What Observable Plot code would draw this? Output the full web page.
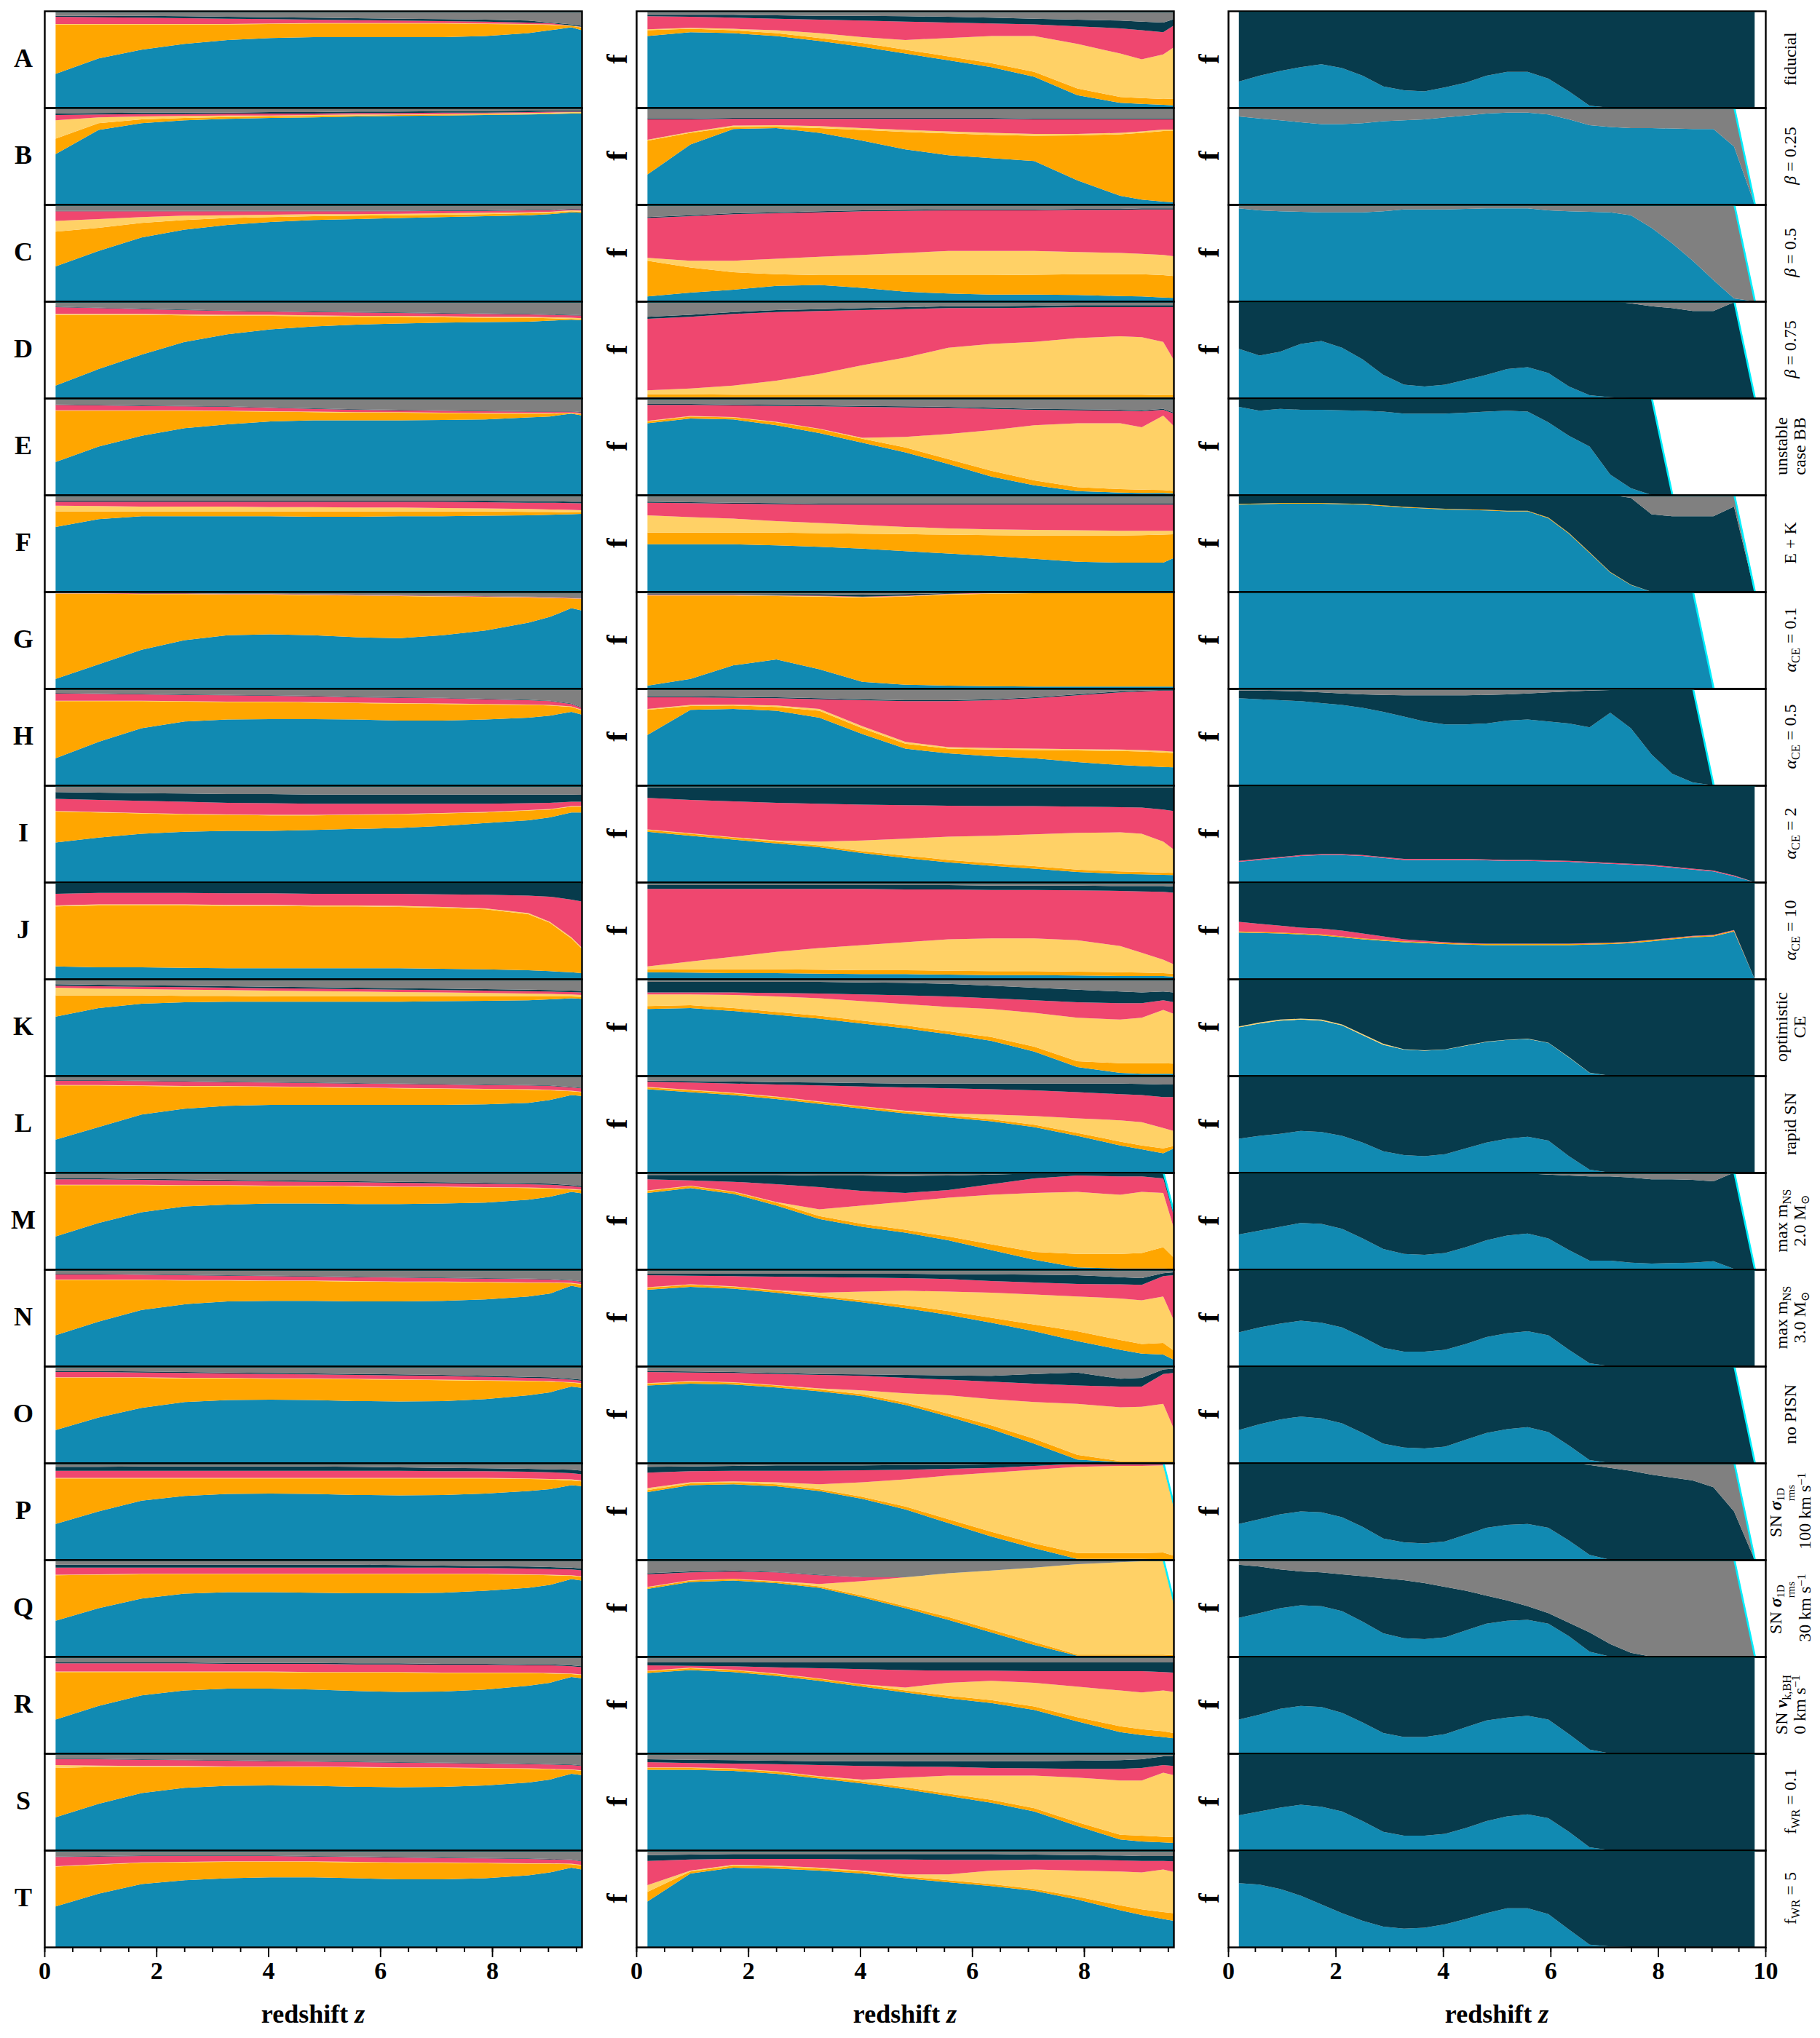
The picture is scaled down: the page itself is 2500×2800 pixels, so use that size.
<!DOCTYPE html>
<html><head><meta charset="utf-8">
<script src="https://cdn.jsdelivr.net/npm/d3@7"></script>
<script src="https://cdn.jsdelivr.net/npm/@observablehq/plot@0.6"></script>
<style>
body{margin:0;background:#fff;}
#fig{position:relative;width:2500px;height:2800px;font-family:"Liberation Serif","DejaVu Serif",serif;color:#000;}
.panel{position:absolute;}
.lbl{position:absolute;white-space:nowrap;text-align:center;line-height:1.05;}
.lbl sub{font-size:68%;vertical-align:-0.3em;line-height:0;}
.lbl sup{font-size:68%;vertical-align:0.45em;line-height:0;}
.ss{display:inline-flex;flex-direction:column;font-size:62%;line-height:0.95;vertical-align:-0.25em;text-align:left;}
</style></head><body><div id="fig"></div>
<script>
// ---------- grids (redshift) ----------
const zAB = [0.2,0.968,1.736,2.504,3.272,4.04,4.808,5.576,6.344,7.112,7.88,8.648,9.032,9.416,9.8];
const zC = [0.2,0.584,0.968,1.352,1.736,2.12,2.504,2.888,3.272,3.656,4.04,4.424,4.808,5.192,5.576,5.96,6.344,6.728,7.112,7.496,7.88,8.264,8.648,9.032,9.416,9.8];

const rowLetters = ["A","B","C","D","E","F","G","H","I","J","K","L","M","N","O","P","Q","R","S","T"];
const rowLabels = [
  "fiducial",
  "<i>β</i> = 0.25",
  "<i>β</i> = 0.5",
  "<i>β</i> = 0.75",
  "unstable<br>case BB",
  "E + K",
  "<i>α</i><sub>CE</sub> = 0.1",
  "<i>α</i><sub>CE</sub> = 0.5",
  "<i>α</i><sub>CE</sub> = 2",
  "<i>α</i><sub>CE</sub> = 10",
  "optimistic<br>CE",
  "rapid SN",
  "max m<sub>NS</sub><br>2.0 M<sub>⊙</sub>",
  "max m<sub>NS</sub><br>3.0 M<sub>⊙</sub>",
  "no PISN",
  "SN <b><i>σ</i></b><span class='ss'><span>1D</span><span>rms</span></span><br>100 km s<sup>−1</sup>",
  "SN <b><i>σ</i></b><span class='ss'><span>1D</span><span>rms</span></span><br>30 km s<sup>−1</sup>",
  "SN <b><i>v</i></b><sub>k,BH</sub><br>0 km s<sup>−1</sup>",
  "f<sub>WR</sub> = 0.1",
  "f<sub>WR</sub> = 5"
];
const seriesNames = ["blue","orange","yellow","pink","navy","gray"];
const seriesColors = ["#118ab2","#ffa600","#ffd166","#ef476f","#073b4c","#808080"];
const xTickLabels = [[0,2,4,6,8],[0,2,4,6,8],[0,2,4,6,8,10]];
const xMax = [9.6, 9.6, 10];
const xTitle = "redshift <i>z</i>";

// ---------- column 1: cumulative tops (%) ----------
const c1Blue = [
[35,51,60,66,70,72,73,73,73,73,74,77,80,83,77],
[52,77,84,87,88.5,89.5,90,91,91.5,92,92.5,93,93.5,94,94],
[36,52,66,74,79,82,84,85,86,87,88,89,90,92,91],
[13,30,45,58,66,71,74,76,77,78,78.5,79,80,81,80],
[34,50,61,69,73,76,77,77,77,77.5,78,80,81,84,80],
[67,75,78,78,78,78,77.5,77.5,78,78,78.5,79,79.5,80,81],
[10,25,40,50,55,56,55,53,52,55,60,68,74,83,78],
[28,45,59,66,68,68.5,68.5,68,67,67,68,70,72,76,70],
[41,46,50,52,53,53,54,55,56,58,61,64,67,72,72],
[13,12,12,11.5,11,11,11,11,11,10.5,10,9,8,7,5],
[61,70,74.5,76,76.5,76.5,76.5,76.5,76.5,77,77.5,78,79,80,79],
[34,47,60,66,69,70,70,70,70,70,70.5,72,75,80,78],
[34,48,59,65,67,68,68,67.5,67.5,68,69,72,75,80,77],
[32,46,58,64,67,67.5,67.5,67,67,67.5,69,72,75,83,79],
[34,47,57,63,65,65.5,65,64,63.5,64,66,70,73,79,76],
[37,50,61,66,68,68.5,68,67,66.5,67,68.5,71,73,77,75],
[37,50,60,65,66.5,66.5,66,65.5,65.5,66,68,71,74,80,77],
[35,49,60,65,67,67,66,64.5,63.5,64,66,70,73,79,76],
[34,48,59,64.5,66.5,67,66.5,65.5,65,65.5,67,70,73,79,76],
[42,55,65,69,71,72,72,71,70,70,71,74,77,82,78]];
const c1Orange = [
[86,86,86,86,86,86.5,87,87,87,87,86.5,86,85.5,84.5,81],
[68,84,88,89.5,90.5,91,91.5,92,92.5,93,93,93.5,94,94.5,94.5],
[72,76,81,84,86,87,88,88.5,89,89.5,90,91,91.5,93,92],
[86,86,86,85.5,85,85,84.5,84,84,83.5,83,83,82.5,82,81],
[87,87,87,87,86.5,86,85.5,85,85,84.5,84,84,84,84.5,82],
[83,83,83,83,83,83,83,83,83,83,83,82.5,82.5,82,82],
[98,98,97.5,97.5,97,97,96.5,96,95.5,95,94.5,94,93.5,93,92],
[87,87,87,86.5,86,86,85.5,85,84.5,84,83.5,83,82.5,81,74],
[73,72,71,70,69.5,69,69,69.5,70,71,72,74,75,78,78],
[75,76,76,76,75.5,75.5,75,75,74.5,73.5,72,67,58,42,20],
[83,83,83,82.5,82.5,82,82,82,82,82,82,82,82,82,81],
[90,90,89.5,89,89,88.5,88,87.5,87,86.5,86,85.5,85,84,82],
[87,87,87,86.5,86.5,86,86,85.5,85,85,84.5,84,83.5,82.5,81],
[89,89,89,88.5,88.5,88,88,87.5,87,87,86.5,86,86,85.5,83],
[88,88,88,87.5,87.5,87,87,86.5,86,85.5,85,84.5,84,83,81],
[84,84,84,84,84,84,84,84,84,84,84,83.5,83,82,80],
[84,84.5,85,85,85,85,85,85,85,85,85,84.5,84,83.5,81],
[84,84,84,84,84,84,83.5,83.5,83.5,83,83,83,82.5,82,80],
[85,86,86,86,86,86,86,85.5,85,85,84.5,84,83.5,83,81],
[83,85,87,87.5,88,88,88,87.5,87,87,86.5,86,86,85.5,83]];
const c1Yellow = [
[86.5,86.5,86.5,86.5,86.5,87,87.5,87.5,87.5,87.5,87,86.5,86,85,81.5],
[87,90,91,91.5,92,92,92.5,93,93,93.5,94,94.5,95,95.5,95.5],
[83,85,87,88.5,89,89.5,90,90,90.5,91,91.5,92,92.5,94,93],
[87,87,87,86.5,86,86,85.5,85,85,84.5,84,84,83.5,83,82],
[87.5,87.5,87.5,87.5,87,86.5,86,85.5,85.5,85,84.5,84.5,84.5,85,82.5],
[89,88.5,88,88,88,87.5,87.5,87,87,86.5,86,85.5,85,84.5,84],
[98.3,98.3,97.8,97.8,97.3,97.3,96.8,96.3,95.8,95.3,94.8,94.3,93.8,93.3,92.3],
[87.5,87.5,87.5,87,86.5,86.5,86,85.5,85,84.5,84,83.5,83,81.5,74.5],
[73.5,72.5,71.5,70.5,70,69.5,69.5,70,70.5,71.5,72.5,74.5,75.5,78.5,78.5],
[76,77,77,77,76.5,76.5,76,76,75.5,74.5,73,68,59,43,21],
[91,90,89.5,89,88.5,88,87.5,87,86.5,86,85.5,85,84.5,84,83],
[90.5,90.5,90,89.5,89.5,89,88.5,88,87.5,87,86.5,86,85.5,84.5,82.5],
[87.5,87.5,87.5,87,87,86.5,86.5,86,85.5,85.5,85,84.5,84,83,81.5],
[89.5,89.5,89.5,89,89,88.5,88.5,88,87.5,87.5,87,86.5,86.5,86,83.5],
[88.5,88.5,88.5,88,88,87.5,87.5,87,86.5,86,85.5,85,84.5,83.5,81.5],
[84.5,84.5,84.5,84.5,84.5,84.5,84.5,84.5,84.5,84.5,84.5,84,83.5,83,81],
[84.5,85,85.5,85.5,85.5,85.5,85.5,85.5,85.5,85.5,85.5,85,84.5,84,81.5],
[84.5,84.5,84.5,84.5,84.5,84.5,84,84,84,83.5,83.5,83.5,83,82.5,80.5],
[88,87.5,87,87,86.5,86.5,86.5,86,85.5,85.5,85,84.5,84,83.5,81.5],
[83.5,85.5,87.5,88,88.5,88.5,88.5,88,87.5,87.5,87,86.5,86.5,86,83.5]];
const c1Pink = [
[94,93.5,93,92.5,92,91.5,91,90.5,90,89.5,89,88,87.5,85,82],
[92.5,93,93.5,93.5,94,94,94,94.5,94.5,95,95,95.5,96,96,96],
[93,93,93,93,93,93,93,93,93,93.5,93.5,94,94,95,94.5],
[94,93,92,91,90,89.5,89,88.5,88,87.5,87,86.5,86,85.5,85],
[93,92.5,92,91.5,91,90,89,88,87.5,87,86.5,86,86,86,84],
[93,93,93,93,93,93,93,93,93,93,92.5,92,92,91.5,91],
[98.8,98.8,98.3,98.3,97.8,97.8,97.3,96.8,96.3,95.8,95.3,94.8,94.3,93.8,92.8],
[95,94.5,94,93.5,93,92.5,92,91,90.5,90,89,88,87,84,76],
[86,85,84,83,82,81.5,81,81,81,81,81,81.5,82,83,83],
[88,89,89,89,88.5,88.5,88,88,88,87.5,87,86,85,82,78],
[93,92.5,92,91.5,91,90.5,90,89.5,89,88.5,88,87.5,87,86.5,85.5],
[95,95,94.5,94,93.5,93,92.5,92,91.5,91,90.5,90,89.5,88,86],
[93,93,92.5,92,91.5,91,90.5,90,89.5,89,88.5,88,87.5,86,84],
[95,95,94.5,94,93.5,93,92.5,92,91.5,91,90.5,90,89.5,88.5,86],
[94,94,93.5,93,92.5,92,91.5,91,90.5,90,89,88,87.5,86,84],
[92,92,92,92,92,92,92,92,92,91.5,91.5,91,90.5,89.5,87],
[92,92,92,92,92,92,92,92,92,92,91.5,91,90.5,90,88],
[93,93,93,93,92.5,92.5,92.5,92,92,91.5,91.5,91,91,90,88],
[94,94,93.5,93,92.5,92,91.5,91,90.5,90,89.5,89,88.5,88,86],
[93,93.5,94,94,94,94,93.5,93,92.5,92,91.5,91,90.5,90,87]];
const c1Navy = [
[95,95,95,94.5,94,93.5,93,92.5,92,91.5,91,90,88,86,83],
[94,94.5,95,95,95,95.5,95.5,96,96,96.5,96.5,97,97,97,97],
[93.5,93.5,93.5,93.5,93.5,93.5,93.5,93.5,93.5,94,94,94.5,94.5,95.5,95],
[94.5,93.5,92.5,91.5,90.5,90,89.5,89,88.5,88,87.5,87,86.5,86,85.5],
[93.5,93,92.5,92,91.5,90.5,89.5,88.5,88,87.5,87,86.5,86.5,86.5,84.5],
[94,94,94,94,94,94,94,94,94,94,94,93.5,93.5,93,93],
[99,99,98.5,98.5,98,98,97.5,97,96.5,96,95.5,95,94.5,94,93],
[95.5,95,94.5,94,93.5,93,92.5,91.5,91,90.5,89.5,88.5,87.5,84.5,76.5],
[93,92.5,92,91.5,91,91,90.5,90.5,90.5,90.5,90.5,90.5,90.5,90.5,90],
[99,99,99,99,99,99,99,99,99,99,99,99,99,99,99],
[94.5,94,93.5,93,92.5,92,91.5,91,90.5,90,89.5,89,88.5,88,87],
[95.5,95.5,95,94.5,94,93.5,93,92.5,92,91.5,91,90.5,90,88.5,86.5],
[94,94,93.5,93,92.5,92,91.5,91,90.5,90,89.5,89,88.5,87,85],
[95.5,95.5,95,94.5,94,93.5,93,92.5,92,91.5,91,90.5,90,89,86.5],
[95,95,94.5,94,93.5,93,92.5,92,91.5,91,90,89,88.5,87,85],
[96,96,96.5,96.5,96.5,96.5,96.5,96,95.5,95,94.5,94,93.5,93,91],
[95,95,95,95,95,95,95,95,94.5,94,93.5,93,92.5,92,90],
[94,94,94,94,93.5,93.5,93.5,93,93,92.5,92.5,92,92,91,89],
[94.5,94.5,94,93.5,93,92.5,92,91.5,91,90.5,90,89.5,89,88.5,86.5],
[93.5,94,94.5,94.5,94.5,94.5,94,93.5,93,92.5,92,91.5,91,90.5,87.5]];
const c1Total = [100,100,100,100,100,100,100,100,100,100,100,100,100,100,100,100,100,100,100,100];

// ---------- column 2 ----------
const c2Blue = [
[74,78,77,74,69,63,56,49,42,32,13,5,4,3,2],
[31,62,78,79,74,66,57,51,48,45,25,9,5,3,2],
[5,9,12,16,17,14,10,8,7,7,6.5,5.5,5,4,3],
[1,1,1,1,1,1,1,1,1,1,1,1,1,1,1],
[74,79,78,72,64,54,44,32,19,10,4,2.5,2,2,1],
[49,49,49,48,46.5,44.5,42,39.5,37,34,31,30,30,30,40],
[3,10,24,30,20,7,4,3,2.5,2,2,2,2,2,2],
[52,78,79,77,70,53,38,33,30,28,24,21,20,19,18],
[52,48,44,40,36,30,25,20.5,17,14,10.5,8.5,8,7.5,7],
[7,6.5,6,6,5.5,5,5,4.5,4,4,3.5,3,3,3,2],
[69,70,67,63,59,54,49,43,36,25,9,3,2,2,2],
[86,83,80,76,71,66,61,57,53,47,38,28,24,20,30],
[79,84,78,66,52,44,38,30,20,10,2,1,1,1,0],
[79,82,80,76,71,66,60,53,45,36,26,17,13,12,1],
[80,82,81,78,74,69,60,48,35,20,3.6,1,1,1,1],
[70,77,78,76,71,63,52,38,24,12,1,1,1,0.5,0],
[70,77,78.5,76,71,61,50,38,25,12,1,1,1,1,0],
[83,86,84,80,75,69,63,57,52,45,33,22,19,17,14],
[83,83,82,79,74,69,63,56,49,40,25,11,9,8,7],
[47,76,82,81,79,76,71,67,63,58,49,38,33,29,25]];
const c2Orange = [
[80,81.5,80,77,72,67,60,53,46,37,20,11,10,9,10],
[66,74,80,80.5,79,77,75,73.5,72,71,71.5,72.5,74,76,76],
[42,35,30,28,27,27,27,27,27,27.5,28,28,28,27,25],
[4,4,3.5,3.5,3.5,3.5,3.5,3.5,3.5,3.5,3.5,3.5,3.5,3,3],
[76,81,80,75,68,58,49,37,25,15,8,6,5.5,5,3],
[61,61,61,61,60.5,60,59.5,59,58.5,58,58,58,58.5,59,60],
[96,96,96,95.5,95,94,95,97,98,98.5,99,99,99,99,99],
[78,82,82.5,81,77,59,43,38,37,36.5,36,35.5,35,34,33],
[54,50,46,42,38,32,27.5,23,19.5,16.5,13,11,10.5,10,9],
[10,10,10,10,9.5,9,9,8.5,8,8,7.5,7,6.5,6,5],
[72,73,70,66,62,57,52,46,40,30,15,13,13,13,12],
[88,85,82,78,73,68,63,59,55,49.5,41,32,28,25,28],
[81,86,80,69,55,47,41,34,26,18,16,16,17,23,1],
[81,84,82,78,73,68,63,57,50,43,36,27,23,24,8],
[82,84,83,80,76,71,62.5,51,39,25,8.5,2,2,2,2],
[72,79,80,78,73,65,55,42,29,17,7,7,7,7.5,1],
[71.5,78.5,80,77.5,72.5,63,52,41,28,15,2,2,2,2,1],
[85,88,86,82,77,71,65,59.5,55,48.5,37.5,28,25,23,19],
[85,85,84,81,76,71,65,58.5,52,43.5,29,16,15,14,13],
[57,78,84,83,81,78,73,69,65,60,52,43,39,36,34]];
const c2Yellow = [
[81,82.5,81.5,80,77,73,70,72,74,74,66,56,50,55,70],
[67,75,81.5,82,81,79,77,75.5,74,73,73,74,75.5,77.5,77.5],
[45,42,42,44,46,48,50,52,52,52,51,50,49,48,45],
[8,10,13,18,25,34,42,52,56,58,62,64,63,58,20],
[76.5,81.5,80.5,75.5,68.5,59,60,63,67,72,74,74,70,82,60],
[79,77,75.5,73,71,69,67,65.5,64.5,64,63.5,63,63,63,63],
[96.5,96.5,96.5,96,95.5,94.5,95.5,97.5,98.5,99,99.3,99.3,99.3,99.3,99.3],
[79,83,83.5,82.5,79,61,45,39.5,38.5,38,37.5,37,36.5,35.5,34],
[54.5,50.5,46.5,43,42,43,45,47,48,49.5,51,51.5,50,42,25],
[13,18,23,28,32,35,38,41,42,42,40,34,27,20,10],
[84,84,83.5,82,80,77,74,71,69,65,60,58,60,68,60],
[88.5,85.5,82.5,78.5,73.5,68.5,64,61,60,58.5,56,54,52,46,40],
[81.5,86.5,80.5,69.5,62,66,70,74,77,79,80,77,80,79,5],
[81.5,84.5,82.5,78.5,76,77,78,77,76,74,72,70,68,72,22],
[82.5,84.5,83.5,80.5,77,75,72,70,66,63,61,57.5,58,61,9],
[74,80,81,80,78,80,83,87,90,93,96,97,97,97.5,10],
[72,79,80.5,78,75,78,82,86,89,92,95.5,97.5,98.5,99.5,11],
[85.5,88.5,86.5,82.5,77.5,71.5,68,73,75,73,69,65,63,65,62],
[85.5,85.5,84.5,81.5,76.5,73,75,77,77,77,75,72,72,80,75],
[64,79,85,84,82,79,75,75,79,80,79,78,77,80,75]];
const c2Pink = [
[94.5,94,93,92,91,90,89,88,87,86,84,82,80,78,92],
[88,88,88.5,88.5,88.5,88.5,88.5,88.5,88.5,88,88,88,88,88,88],
[86,88,90,91,92,93,93.5,94,94,94,94.5,94.5,95,95,95],
[82,84,87,89,90,91,92,93,93,93.5,94,94,94,94,94],
[93,93,92.5,92,91.5,91,90.5,90,89,88,87.5,87,86.5,88,80],
[92,91.5,91,90.5,90,90,90,90,90,90,90,90,90,90,90],
[97,97,97,96.5,96,95,96,98,99,99.3,99.5,99.5,99.5,99.5,99.5],
[91,91,90.5,90,89,88,87,87,88,90,93,96,97,98,98],
[87,85,83.5,82,81,80,79.5,79,78.5,78.5,78,77.5,77,75,72],
[93,93,93,93,93,93,92.5,92.5,92,92,91.5,91,90.5,90,88],
[86,86,86,85.5,85,84,83,82,80,78,76,75,75,78,74],
[94,93,92,91,90,89,88,87,86,85,83,81,80,78,78],
[93,92,90.5,88,85,81,79,82,88,94,97,96,96,94,15],
[94,93.5,93,92.5,92,91.5,91,90,88,86.5,85,84.5,84,93,95],
[94,93.5,93,92,91,90,88,86,84,82,80,79,79,92,94],
[90,91.5,92,92,92,92.5,93,94,95,97,99,99,99,99.5,11],
[85,87,88,87,84,82,82,86,89,92,95.5,97.5,98.5,99.5,11],
[91,90.5,90,89,88,87,86,85.5,85.5,85,85,85,85,84,83],
[91,90,89.5,89,88,87,86.5,86,85,84.5,84,84,85,88,86],
[89,90.5,91,91,91,90.5,90.5,90,90,90,90,89.5,89,89,88]];
const c2Navy = [
[96,96,96,95.5,95,95,94.5,94,93,92,91,90,89,88,95],
[89,89,89.5,89.5,89.5,89.5,89.5,89.5,89.5,89,89,89,89,89,89],
[87,89,91,92,93,94,94.5,95,95,95,95.5,95.5,96,96,96],
[84,86,89,91,92,93,94,95,95,95.5,96,96,96,96,96],
[94,94,93.5,93,92.5,92,91.5,91,90,89,88.5,88,87.5,89,81],
[93,92.5,92,91.5,91,91,91,91,91,91,91,91,91,91,91],
[97.5,97.5,97.5,97.5,97.5,97,97.5,98.5,99.3,99.5,99.7,99.7,99.7,99.7,99.7],
[92,92,91.5,91,90,89,88,88,89,91,94,97,98,98.5,98.5],
[98,98,98,98,98,98,98,98,98,98,98,98,98,98,98],
[97,97,97,97,97,97,97,97,96.5,96.5,96.5,96,96,96,95],
[97,97,97,97,97,96.5,96,95,93,91,89,87,86,87,85],
[95,94.5,94,93.5,93,92.5,92,92,92,92,92,92,91.5,91,91],
[97.5,97.5,97.5,97.5,97,97,96.5,97,98,99,99.5,99.5,99.5,99.5,16],
[95.5,95.5,95.5,95.5,95.5,95.5,95.5,95,95,94.5,94,92,91,96,98],
[95,94.5,94,93,92,91.5,91,90.5,90,92,93.5,87,88,96.7,98],
[96,96.5,97,97.5,97.5,97.5,98,98,98.5,99,99.5,99.5,99.5,99.8,11],
[86,88,89,87.5,84.5,82,82,86,89,92,95.5,97.5,98.5,99.5,11],
[94,94,94,94,94,94,94,94,94,94,94,94,94,94,94],
[94,93.5,93,92.5,92,92,92,92,92,92,92.5,93,94,97,97],
[95,95.5,96,96,96,96,96,96,96,95.5,95,94.5,94,94,94]];
const c2Total = [100,100,100,100,100,100,100,100,100,100,100,100,
[100,100,100,100,100,100,100,100,100,100,100,100,100,100,16],
100,100,
[100,100,100,100,100,100,100,100,100,100,100,100,100,100,11],
[100,100,100,100,100,100,100,100,100,100,100,100,100,100,11],
100,100,100];

// ---------- column 3 ----------
const c3Blue = [
[27,33,38,42,45,41,33,22,18,17,21,26,33,37,37,30,17,2,0,0,0,0,0,0,0,0],
[91,89,87,85,83,83,84,86,87,88,90,92,94,95,95,93,88,82,80,79,79,78.5,78,78,60,0],
[96,94,93,92.5,92,92,92,93,95,95,95,95.5,96,96,96,94,93,92.5,92,89,76,60,42,22,3,0],
[51,44,48,56,59,52,40,24,14,12,14,19,24,30,32,26,12,3,1,0,0,0,0,0,0,0],
[91,87,89,88,88,87.5,87,86,84,84,84,85,86,87,86,75,61,50,21,7,0,0,0,0,0,0],
[90,90.5,91,91,91,90.5,90,88.5,87,86,85,84.5,84,83,83,76,60,40,20,7,0,0,0,0,0,0],
[98.5,98.5,98.5,98.5,99,99,99,99,99,99,99,99,99,99,99,99,99.5,99.5,99.5,99.5,99.5,99.5,99.5,0,0,0],
[90,89,88,87,85,83,80,76,71,66,63,63,64,67,68,66,64,60,75,59,32,12,3,0,0,0],
[21,23,25,27,28,28,27,25,23,23,23,23,22.5,22,22,21.5,21,20,19,18,17,15,13,11,6,0],
[48,47.5,47,46,45,43,41,39.5,38,37,36,35.5,35,35,35,35,35,35.5,36,37,39,41,43,44,49,0],
[50,54,57,58,57,52,42,32,27,26,27,31,35,37,38,34,19,3,0,0,0,0,0,0,0,0],
[35,38,40,43,42,38,31,22,18,17,19,25,31,35,37,33,17,3,0,0,0,0,0,0,0,0],
[36,40,44,48,47,42,32,21,16,15,17,23,30,35,37,32,20,9,9,7,6,6.5,7,8.5,0.5,0],
[35,40,44,47,45,40,30,19,15,15,17,23,30,34,36,32,17,3,0,0,0,0,0,0,0,0],
[34,40,45,48,46,41,31,20,16,15,17,24,31,35,37,32,18,3,0,0,0,0,0,0,0,0],
[37,42,47,50,49,44,34,22,18,17,19,26,33,36,37,33,20,5,0,0,0,0,0,0,0,0],
[40,45,50,53,52,47,36,24,19,18,20,27,34,37,38,34,21,5,0,0,0,0,0,0,0,0],
[35,40,46,49,48,42,32,21,17,17,20,27,34,37,39,35,20,4,0,0,0,0,0,0,0,0],
[36,40,44,47,45,40,30,19,15,15,17,23,30,35,37,33,19,3,0,0,0,0,0,0,0,0],
[66,64.5,60,53,44,35,27,21,19,20,23.5,29,35,40,40,34,18,2.5,0.5,0,0,0,0,0,0,0]];
const c3Orange = [null,null,null,null,null,
[90.7,91.2,91.7,91.7,91.7,91.2,90.7,89.2,87.7,86.7,85.7,85.2,84.7,83.7,83.7,76.7,60.7,40.7,20.5,7.3,0,0,0,0,0,0],
null,null,null,
[49,48.5,48,47,46,44,42,40.5,39,38,37,36.5,36,36,36,36,36,36.5,37,38,40,42,44,45,50,0],
null,null,null,null,null,null,null,null,null,null];
const c3Yellow = [null,null,null,null,null,null,null,null,null,null,
[51,55,58,59,58,53,43,33,27.5,26.3,27.3,31.3,35.3,37.3,38.3,34.3,19.3,3.2,0,0,0,0,0,0,0,0],
null,null,null,null,null,null,null,null,null];
const c3Pink = [null,null,null,null,null,null,null,null,
[22,24,26,28,29,29,28,26,24,24,24,24,23.5,23,23,22.5,22,21,20,19,18,16,14,12,7,0],
[59,57,55,53,52,50,47,44,41,39.5,38,37,36.5,36.5,36.5,36.5,36.5,37,37.5,38.5,40.5,42.5,44.5,45.5,50.5,0],
null,null,null,null,null,null,null,null,null,null];
const c3Navy = [100,null,null,
[100,100,100,100,100,100,100,100,100,100,100,100,100,100,100,100,100,100,100,98,95,93,90,90,99,0],
100,
[100,100,100,100,100,100,100,100,100,100,100,100,100,100,100,100,100,100,100,97,80,78,78,78,88,0],
100,
[98,98,97.5,97,96,95,94,93.5,93,93,93,93,93.5,94,95,96,97,98,98.5,99,99.5,100,100,100,100,100],
100,100,100,100,
[100,100,100,100,100,100,100,100,100,100,100,100,100,100,99,98,97,96,96,95,93,93,92.5,91,100,0],
100,100,
[100,100,100,100,100,100,100,100,100,100,100,100,100,100,100,100,100,98,95,92,88,85,82,75,50,0],
[95,93,90,88,87,85,83,81,79,76,72,68,63,58,52,45,35,25,13,4,0,0,0,0,0,0],
100,100,100];
const dropEnd = [100,100,100,100,100,100,100,100,100,100,100,100,100,100,100,100,100,100,100,100,100,100,100,100,100,0];
const c3Total = [100, dropEnd, dropEnd, dropEnd,
[100,100,100,100,100,100,100,100,100,100,100,100,100,100,100,100,100,100,100,100,100,0,null,null,null,null],
dropEnd,
[100,100,100,100,100,100,100,100,100,100,100,100,100,100,100,100,100,100,100,100,100,100,100,0,null,null],
[100,100,100,100,100,100,100,100,100,100,100,100,100,100,100,100,100,100,100,100,100,100,100,0,null,null],
100,100,100,100, dropEnd, 100, dropEnd, dropEnd, dropEnd, 100,100,100];

const columns = [
  {z: zAB, tops: [c1Blue,c1Orange,c1Yellow,c1Pink,c1Navy], total: c1Total},
  {z: zAB, tops: [c2Blue,c2Orange,c2Yellow,c2Pink,c2Navy], total: c2Total},
  {z: zC,  tops: [c3Blue,c3Orange,c3Yellow,c3Pink,c3Navy], total: c3Total}
];

// ---------- layout ----------
const colLeft = [61, 874, 1687];
const panelW = 738, panelH = 133, top0 = 14.5;
const axisH = 62;
const fig = document.getElementById("fig");

function get(a, i) { return a == null ? null : (typeof a === "number" ? a : a[i]); }
function buildPanel(z, tops, total) {
  const rows = [], edge = [];
  z.forEach((zi, i) => {
    const T = get(total, i);
    let prev = 0;
    for (let k = 0; k < 6; k++) {
      if (T == null) { rows.push({k, z: zi, y1: NaN, y2: NaN}); continue; }
      let top = k === 5 ? T : get(tops[k], i);
      if (top == null) top = prev;
      top = Math.max(prev, Math.min(top, T));
      rows.push({k, z: zi, y1: prev, y2: top});
      prev = top;
    }
    edge.push({z: zi, y: T == null ? NaN : T});
  });
  return {rows, edge};
}

columns.forEach((col, c) => {
  for (let r = 0; r < 20; r++) {
    const tops = col.tops.map(s => s[r]);
    const {rows, edge} = buildPanel(col.z, tops, col.total[r]);
    const bottom = r === 19;
    const marks = seriesColors.map((color, k) =>
      Plot.areaY(rows.filter(d => d.k === k), {x: "z", y1: "y1", y2: "y2", fill: color, clip: true}));
    marks.push(Plot.lineY(edge, {x: "z", y: "y", stroke: "#00f0ff", strokeWidth: 2.6, clip: true}));
    marks.push(Plot.frame({stroke: "#000", strokeWidth: 2.4}));
    if (bottom) {
      const minor = d3.range(0, xMax[c] + 1e-9, 0.5);
      marks.push(Plot.axisX({ticks: minor, tickSize: 7, tickFormat: () => "", label: null, strokeWidth: 1.8}));
      marks.push(Plot.axisX({ticks: xTickLabels[c], tickSize: 14, tickPadding: 5, tickFormat: d => String(d),
        label: null, strokeWidth: 1.8, fontSize: 34, fontWeight: "bold"}));
    }
    const svg = Plot.plot({
      width: panelW, height: panelH + (bottom ? axisH : 0),
      marginTop: 0, marginRight: 0, marginLeft: 0, marginBottom: bottom ? axisH : 0,
      x: bottom ? {domain: [0, xMax[c]]} : {domain: [0, xMax[c]], axis: null},
      y: {domain: [0, 100], axis: null},
      style: {background: "transparent", overflow: "visible", fontFamily: "Liberation Serif, DejaVu Serif, serif", fontSize: "34px", fontWeight: "bold", color: "#000"},
      marks
    });
    const div = document.createElement("div");
    div.className = "panel";
    div.style.left = colLeft[c] + "px";
    div.style.top = (top0 + r * panelH) + "px";
    div.style.width = panelW + "px";
    div.appendChild(svg);
    fig.appendChild(div);
  }
});

function addText(html, x, y, size, bold, rot) {
  const d = document.createElement("div");
  d.className = "lbl";
  d.innerHTML = html;
  d.style.left = x + "px";
  d.style.top = y + "px";
  d.style.fontSize = size + "px";
  d.style.fontWeight = bold ? "bold" : "normal";
  d.style.transform = "translate(-50%,-50%)" + (rot ? " rotate(" + rot + "deg)" : "");
  fig.appendChild(d);
}
for (let r = 0; r < 20; r++) {
  const cy = top0 + r * panelH + panelH / 2;
  addText(rowLetters[r], 32, cy, 36, true, 0);
  addText("f", 848, cy, 40, true, -90);
  addText("f", 1661, cy, 40, true, -90);
  addText(rowLabels[r], 2460, cy, 24, false, -90);
}
[430, 1243, 2056].forEach(x => addText(xTitle, x, 2768, 36, true, 0));
</script></body></html>
